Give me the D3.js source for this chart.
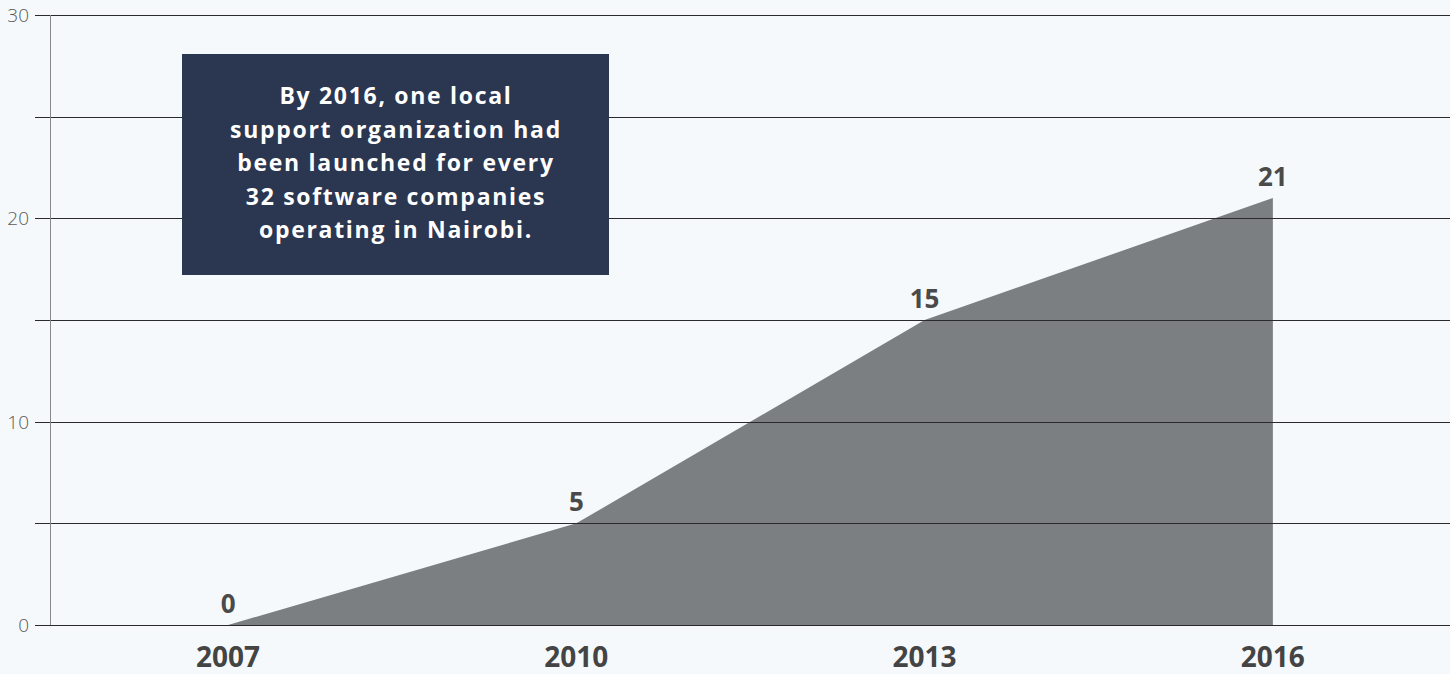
<!DOCTYPE html>
<meta charset="utf-8">
<script src="https://d3js.org/d3.v7.min.js"></script>
<style>
  body { margin: 0; background: #f5f9fb; }
  svg { display: block; }
  text { font-family: "Open Sans", sans-serif; }
</style>
<div id="chart"></div>
<script>
  // data
  var years = ["2007", "2010", "2013", "2016"];
  var values = [0, 5, 15, 21];
  var yTicks = [0, 5, 10, 15, 20, 25, 30];
  var yLabels = [0, 10, 20, 30];
  var note = ["By 2016, one local", "support organization had", "been launched for every",
    "32 software companies", "operating in Nairobi."];

  var width = 1450, height = 674;

  var svg = d3.select("#chart").append("svg")
    .attr("width", width)
    .attr("height", height);

  var x = d3.scalePoint().domain(years).range([54, 1447]).padding(0.5);
  var y = d3.scaleLinear().domain([0, 30]).range([625, 15]);

  var pts = years.map(function (d, i) { return { year: d, value: values[i] }; });

  // area
  var area = d3.area()
    .x(function (d) { return x(d.year); })
    .y0(y(0))
    .y1(function (d) { return y(d.value); });

  svg.append("path")
    .datum(pts)
    .attr("d", area)
    .attr("fill", "#7b7f82");

  // grid lines (drawn over the area)
  svg.append("g").selectAll("line")
    .data(yTicks)
    .join("line")
    .attr("x1", 35)
    .attr("x2", width)
    .attr("y1", function (d) { return Math.round(y(d)) + 0.5; })
    .attr("y2", function (d) { return Math.round(y(d)) + 0.5; })
    .attr("stroke", "#2a2a2a")
    .attr("stroke-width", 1);

  // y axis line
  svg.append("line")
    .attr("x1", 50.5).attr("x2", 50.5)
    .attr("y1", y(30)).attr("y2", y(0))
    .attr("stroke", "#888");

  svg.append("g").selectAll("text")
    .data(yLabels)
    .join("text")
    .attr("x", 29)
    .attr("y", function (d) { return y(d); })
    .attr("dy", "0.36em")
    .attr("text-anchor", "end")
    .attr("font-size", 19)
    .attr("font-weight", 300)
    .attr("fill", "#5a5a5a")
    .text(function (d) { return d; });

  // x labels
  svg.append("g").selectAll("text")
    .data(years)
    .join("text")
    .attr("x", function (d) { return x(d); })
    .attr("y", 667)
    .attr("text-anchor", "middle")
    .attr("font-size", 28)
    .attr("font-weight", 700)
    .attr("fill", "#444")
    .text(function (d) { return d; });

  // value labels
  svg.append("g").selectAll("text")
    .data(pts)
    .join("text")
    .attr("x", function (d) { return x(d.year); })
    .attr("y", function (d) { return y(d.value) - 12; })
    .attr("text-anchor", "middle")
    .attr("font-size", 26)
    .attr("font-weight", 700)
    .attr("fill", "#4a4a4a")
    .text(function (d) { return d.value; });

  // annotation box
  svg.append("rect")
    .attr("x", 182).attr("y", 54)
    .attr("width", 427).attr("height", 221)
    .attr("fill", "#2b3650");

  svg.append("g").selectAll("text")
    .data(note)
    .join("text")
    .attr("x", 396)
    .attr("y", function (d, i) { return 104 + i * 33.5; })
    .attr("text-anchor", "middle")
    .attr("font-size", 23)
    .attr("font-weight", 700)
    .attr("letter-spacing", 1.7)
    .attr("fill", "#fff")
    .text(function (d) { return d; });
</script>
